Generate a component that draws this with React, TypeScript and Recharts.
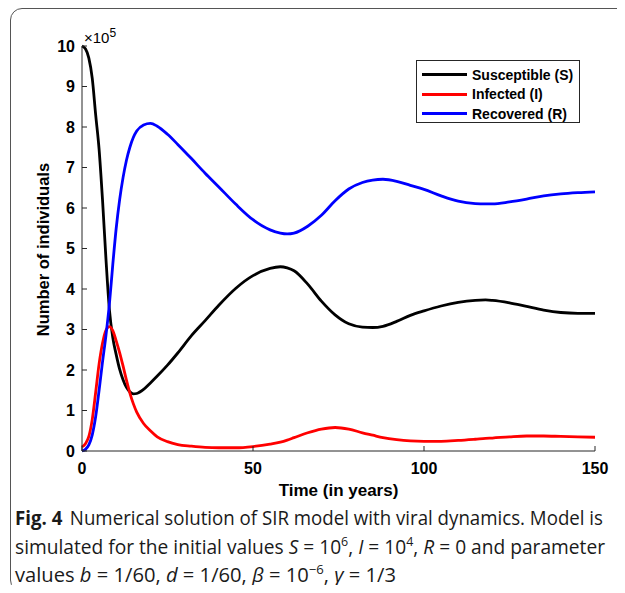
import React from "react";
import { LineChart, Line, XAxis, YAxis, Legend } from "recharts";

// time in years
const years = [0, 1, 2, 3, 4, 5, 6, 7, 8, 9, 10, 11, 12, 13, 14, 15, 16, 18, 20, 22, 25, 28, 32, 36, 40, 45, 50, 55, 58, 60, 62, 66, 70, 74, 78, 82, 85, 88, 92, 96, 100, 105, 110, 115, 118, 120, 125, 130, 135, 140, 145, 150];

// populations, in units of 10^5
const susceptible = [10, 9.93, 9.7, 9.2, 8.3, 7.45, 6.2, 4.75, 3.5, 2.8, 2.38, 2.02, 1.76, 1.57, 1.46, 1.41, 1.42, 1.52, 1.68, 1.85, 2.12, 2.42, 2.85, 3.22, 3.6, 4.02, 4.33, 4.51, 4.55, 4.52, 4.45, 4.12, 3.7, 3.36, 3.14, 3.06, 3.05, 3.08, 3.2, 3.35, 3.46, 3.58, 3.67, 3.72, 3.73, 3.72, 3.66, 3.57, 3.48, 3.42, 3.4, 3.4];
const infected = [0.1, 0.18, 0.36, 0.78, 1.45, 2.15, 2.66, 2.98, 3.07, 2.97, 2.72, 2.43, 2.1, 1.75, 1.43, 1.17, 0.96, 0.68, 0.5, 0.35, 0.23, 0.16, 0.12, 0.09, 0.08, 0.08, 0.11, 0.17, 0.22, 0.27, 0.33, 0.45, 0.54, 0.58, 0.54, 0.45, 0.39, 0.33, 0.28, 0.25, 0.24, 0.24, 0.26, 0.29, 0.31, 0.32, 0.35, 0.37, 0.37, 0.36, 0.35, 0.34];
const recovered = [0, 0.04, 0.15, 0.4, 0.85, 1.5, 2.2, 2.85, 3.62, 4.6, 5.5, 6.2, 6.75, 7.18, 7.5, 7.74, 7.9, 8.05, 8.09, 8.02, 7.82, 7.57, 7.22, 6.86, 6.52, 6.09, 5.71, 5.46, 5.38, 5.36, 5.38, 5.55, 5.82, 6.18, 6.47, 6.63, 6.69, 6.71, 6.66, 6.56, 6.46, 6.3, 6.17, 6.11, 6.1, 6.1, 6.15, 6.22, 6.3, 6.35, 6.38, 6.4];

const seriesOrder = ["Susceptible (S)", "Infected (I)", "Recovered (R)"];
const xTicks = [0, 50, 100, 150];
const yTicks = [0, 1, 2, 3, 4, 5, 6, 7, 8, 9, 10];

const data = years.map((t, i) => ({
  t,
  S: susceptible[i],
  I: infected[i],
  R: recovered[i],
}));

const axisColor = "#262626";
const sans = "'Liberation Sans', Arial, Helvetica, sans-serif";
const tickFont = { fill: "#000", fontSize: 16, fontWeight: 700, fontFamily: sans };

const renderLegend = (props: any) => {
  const items = [...(props.payload || [])].sort(
    (a: any, b: any) => seriesOrder.indexOf(a.value) - seriesOrder.indexOf(b.value)
  );
  return (
    <div
      style={{
        boxSizing: "border-box",
        width: 164,
        height: 63,
        border: `1px solid ${axisColor}`,
        background: "#fff",
        paddingTop: 4,
        fontFamily: sans,
        fontSize: 14,
        fontWeight: 700,
        color: "#000",
      }}
    >
      {items.map((entry: any) => (
        <div key={entry.value} style={{ display: "flex", alignItems: "center", height: 19.5 }}>
          <span style={{ display: "inline-block", width: 45, height: 3, marginLeft: 5, marginRight: 5, background: entry.color }} />
          <span>{entry.value}</span>
        </div>
      ))}
    </div>
  );
};

const yTitle = (props: any) => {
  const { viewBox } = props;
  const cx = viewBox.x + 11;
  const cy = viewBox.y + viewBox.height / 2 + 1;
  return (
    <g>
      <text x={cx} y={cy} transform={`rotate(-90 ${cx} ${cy})`} textAnchor="middle" dominantBaseline="central" fontFamily={sans} fontSize={16.5} fontWeight={700} fill="#000">
        Number of individuals
      </text>
      <text x={viewBox.x + viewBox.width + 2} y={viewBox.y - 3} fontFamily={sans} fontSize={15} fill="#000">
        ×10<tspan dy={-6} fontSize={12}>5</tspan>
      </text>
    </g>
  );
};

const xTitle = (props: any) => {
  const { viewBox } = props;
  return (
    <text x={viewBox.x + viewBox.width / 2} y={viewBox.y + 45} textAnchor="middle" fontFamily={sans} fontSize={17} fontWeight={700} fill="#000">
      Time (in years)
    </text>
  );
};

const capFont = "'Open Sans', 'Noto Sans', sans-serif";

export default function App() {
  return (
    <div style={{ position: "relative", width: 625, height: 593, margin: -8, overflow: "hidden", background: "#fff" }}>
      <div
        style={{
          position: "absolute",
          left: 10,
          top: 8,
          width: 660,
          height: 584,
          boxSizing: "border-box",
          border: "1px solid #555",
          borderRadius: 12,
        }}
      />
      <div style={{ position: "absolute", left: 0, top: 0 }}>
        <LineChart width={625} height={500} data={data} margin={{ top: 46, right: 30, left: 32, bottom: 19 }}>
          <XAxis
            dataKey="t"
            type="number"
            domain={[0, 150]}
            ticks={xTicks}
            height={30}
            tickSize={-5}
            tickMargin={17}
            stroke={axisColor}
            tick={tickFont}
            label={{ content: xTitle }}
          />
          <XAxis xAxisId="top" orientation="top" dataKey="t" type="number" domain={[0, 150]} ticks={xTicks} height={0} tickSize={-5} tick={false} stroke={axisColor} />
          <YAxis
            type="number"
            domain={[0, 10]}
            ticks={yTicks}
            width={50}
            tickSize={-5}
            tickMargin={12}
            stroke={axisColor}
            tick={tickFont}
            label={{ content: yTitle }}
          />
          <YAxis yAxisId="right" orientation="right" type="number" domain={[0, 10]} ticks={yTicks} width={0} tickSize={-5} tick={false} stroke={axisColor} />
          <Legend
            layout="vertical"
            align="center"
            verticalAlign="middle"
            content={renderLegend}
            wrapperStyle={{ left: 416, top: 60, width: 164, height: 63 }}
          />
          <Line type="monotone" dataKey="S" name="Susceptible (S)" stroke="#000000" strokeWidth={2.8} dot={false} isAnimationActive={false} />
          <Line type="monotone" dataKey="I" name="Infected (I)" stroke="#ff0000" strokeWidth={2.8} dot={false} isAnimationActive={false} />
          <Line type="monotone" dataKey="R" name="Recovered (R)" stroke="#0000ff" strokeWidth={2.8} dot={false} isAnimationActive={false} />
        </LineChart>
      </div>
      <svg style={{ position: "absolute", left: 0, top: 490 }} width={625} height={103}>
        <g fontFamily={capFont} fontSize={20} fill="#1a1a1a">
          <text x={15} y={35} textLength={588} lengthAdjust="spacingAndGlyphs">
            <tspan fontWeight={700}>Fig. 4</tspan>
            <tspan dx={8}>Numerical solution of SIR model with viral dynamics. Model is</tspan>
          </text>
          <text x={15} y={64} textLength={590} lengthAdjust="spacingAndGlyphs">
            {"simulated for the initial values "}
            <tspan fontStyle="italic">S</tspan>
            {" = 10"}
            <tspan dy={-8} fontSize={13}>6</tspan>
            <tspan dy={8}>{", "}</tspan>
            <tspan fontStyle="italic">I</tspan>
            {" = 10"}
            <tspan dy={-8} fontSize={13}>4</tspan>
            <tspan dy={8}>{", "}</tspan>
            <tspan fontStyle="italic">R</tspan>
            {" = 0 and parameter"}
          </text>
          <text x={15} y={92} textLength={381} lengthAdjust="spacingAndGlyphs">
            {"values "}
            <tspan fontStyle="italic">b</tspan>
            {" = 1/60, "}
            <tspan fontStyle="italic">d</tspan>
            {" = 1/60, "}
            <tspan fontStyle="italic">β</tspan>
            {" = 10"}
            <tspan dy={-8} fontSize={13}>−6</tspan>
            <tspan dy={8}>{", "}</tspan>
            <tspan fontStyle="italic">γ</tspan>
            {" = 1/3"}
          </text>
        </g>
      </svg>
    </div>
  );
}
